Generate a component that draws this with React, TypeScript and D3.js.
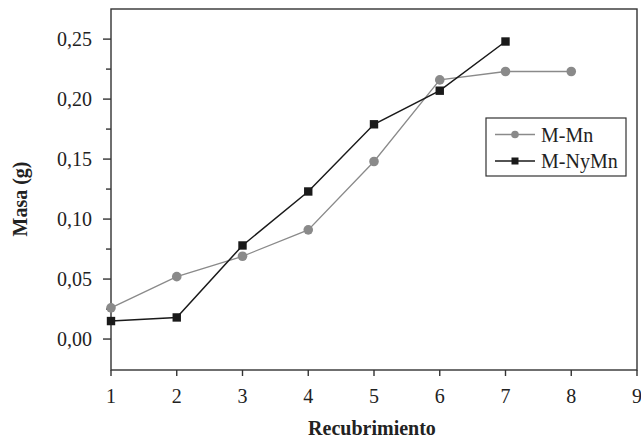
import React from 'react';
import * as d3 from 'd3';

// Recubrimiento number (x)
const coatings: number[] = [1, 2, 3, 4, 5, 6, 7, 8];
// Masa (g) per series
const massMMn: number[] = [0.026, 0.052, 0.069, 0.091, 0.148, 0.216, 0.223, 0.223];
const massMNyMn: number[] = [0.015, 0.018, 0.078, 0.123, 0.179, 0.207, 0.248];

const xTicks: number[] = [1, 2, 3, 4, 5, 6, 7, 8, 9];
const yTicks: number[] = [0, 0.05, 0.1, 0.15, 0.2, 0.25];
const yMinorTicks: number[] = [0.025, 0.075, 0.125, 0.175, 0.225];
const seriesNames: string[] = ['M-Mn', 'M-NyMn'];

const WIDTH = 641;
const HEIGHT = 441;
const GRAY = '#8a8a8a';
const BLACK = '#1a1a1a';
const AXIS = '#333';
const TEXT = '#222';

const left = 111, right = 637, top = 9, bottom = 370;

const x = d3.scaleLinear().domain([1, 9]).range([left, right]);
const y = d3.scaleLinear().domain([-0.0258, 0.2751]).range([bottom, top]);
const line = d3.line<[number, number]>().x(d => x(d[0])).y(d => y(d[1]));
const fmtY = (v: number) => d3.format('.2f')(v).replace('.', ',');

const mmn: [number, number][] = massMMn.map((v, i) => [coatings[i], v]);
const mny: [number, number][] = massMNyMn.map((v, i) => [coatings[i], v]);

const font: React.CSSProperties = { fontFamily: 'Liberation Serif', fontSize: 20 };

const App = () => (
    <svg width={WIDTH} height={HEIGHT}
        style={{ position: 'absolute', left: 0, top: 0, background: 'white' }}>
        {/* frame */}
        <rect x={left} y={top} width={right - left} height={bottom - top}
            fill="none" stroke={AXIS} strokeWidth={1.4} />

        {/* x ticks */}
        {xTicks.map(t => (
            <g key={`x${t}`}>
                <line x1={x(t)} x2={x(t)} y1={bottom} y2={bottom + 6} stroke={AXIS} strokeWidth={1.4} />
                <text x={x(t)} y={403} textAnchor="middle" fill={TEXT} style={font}>{t}</text>
            </g>
        ))}

        {/* y ticks */}
        {yTicks.map(t => (
            <g key={`y${t}`}>
                <line x1={left - 8} x2={left} y1={y(t)} y2={y(t)} stroke={AXIS} strokeWidth={1.4} />
                <text x={92} y={y(t) + 6.5} textAnchor="end" fill={TEXT} style={font}>{fmtY(t)}</text>
            </g>
        ))}
        {yMinorTicks.map(t => (
            <line key={`m${t}`} x1={left - 5} x2={left} y1={y(t)} y2={y(t)} stroke={AXIS} strokeWidth={1.4} />
        ))}

        {/* axis titles */}
        <text x={372} y={435} textAnchor="middle" fill={TEXT} style={{ ...font, fontWeight: 'bold' }}>
            Recubrimiento
        </text>
        <text transform="translate(27,199) rotate(-90)" textAnchor="middle" fill={TEXT}
            style={{ ...font, fontWeight: 'bold' }}>
            Masa (g)
        </text>

        {/* M-Mn */}
        <path d={line(mmn) ?? ''} fill="none" stroke={GRAY} strokeWidth={1.3} />
        {mmn.map(d => (
            <circle key={`c${d[0]}`} cx={x(d[0])} cy={y(d[1])} r={4.8} fill={GRAY} />
        ))}

        {/* M-NyMn */}
        <path d={line(mny) ?? ''} fill="none" stroke={BLACK} strokeWidth={1.5} />
        {mny.map(d => (
            <rect key={`s${d[0]}`} x={x(d[0]) - 4.2} y={y(d[1]) - 4.2} width={8.4} height={8.4} fill={BLACK} />
        ))}

        {/* legend */}
        <rect x={486} y={118} width={140} height={58} fill="white" stroke={AXIS} strokeWidth={1.2} />
        {seriesNames.map((name, i) => {
            const cy = 134.5 + i * 26.5;
            const color = i === 0 ? GRAY : BLACK;
            return (
                <g key={name}>
                    <line x1={495} x2={535} y1={cy} y2={cy} stroke={color} strokeWidth={i === 0 ? 1.3 : 1.5} />
                    {i === 0
                        ? <circle cx={515} cy={cy} r={3.8} fill={color} />
                        : <rect x={511.5} y={cy - 3.5} width={7} height={7} fill={color} />}
                    <text x={541} y={cy + 7} fill={TEXT} style={font}>{name}</text>
                </g>
            );
        })}
    </svg>
);

export default App;
